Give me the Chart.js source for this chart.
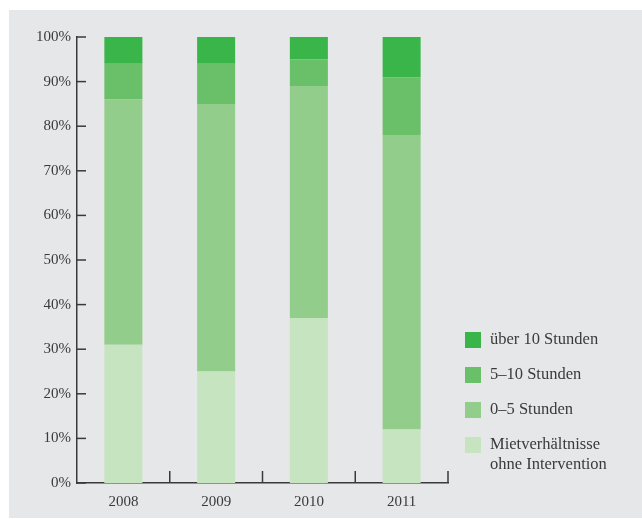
<!DOCTYPE html>
<html><head><meta charset="utf-8">
<script src="https://cdn.jsdelivr.net/npm/chart.js@4"></script>
<style>html,body{margin:0;padding:0;background:#fff}#c{display:block}</style>
</head><body>
<canvas id="c" width="642" height="519"></canvas>
<script>
const years = ['2008','2009','2010','2011'];
const seriesLabels = [['Mietverhältnisse','ohne Intervention'], '0–5 Stunden', '5–10 Stunden', 'über 10 Stunden'];
const ohneIntervention = [31, 25, 37, 12];
const null5 = [55, 60, 52, 66];
const fuenf10 = [8, 9, 6, 13];
const ueber10 = [6, 6, 5, 9];
const yTicks = [0,10,20,30,40,50,60,70,80,90,100];
const colors = ['#c7e4c1','#93cd8b','#6abf69','#3ab54a'];
const FONT = '"Liberation Serif", serif';
const TXT = '#3a3a3a';

const bgPlugin = {
  id:'bg',
  beforeDraw(chart){
    const ctx = chart.ctx;
    ctx.save(); ctx.fillStyle='#e6e7e8'; ctx.fillRect(9,10,633,508); ctx.restore();
  },
  afterDraw(chart){
    const ctx = chart.ctx, ys = chart.scales.y, xs = chart.scales.x;
    ctx.save();
    ctx.strokeStyle='#3a3a3a'; ctx.lineWidth=1.5;
    // y ticks inward
    yTicks.forEach(v=>{
      const py = ys.getPixelForValue(v);
      ctx.beginPath(); ctx.moveTo(xs.left, py); ctx.lineTo(xs.left+9, py); ctx.stroke();
    });
    // x boundary ticks
    const n = years.length;
    const step = xs.getPixelForValue(1)-xs.getPixelForValue(0);
    for(let i=1;i<=n;i++){
      const px = xs.getPixelForValue(i-1) + step/2;
      ctx.beginPath(); ctx.moveTo(px, ys.bottom); ctx.lineTo(px, ys.bottom-12); ctx.stroke();
    }
    // legend (reversed order)
    const ds = chart.data.datasets;
    ctx.font = '16.5px ' + FONT; ctx.textBaseline='middle';
    for(let k=0;k<ds.length;k++){
      const d = ds[ds.length-1-k];
      const top = 332 + k*35;
      ctx.fillStyle = d.backgroundColor; ctx.fillRect(465, top, 16, 16);
      ctx.fillStyle = TXT;
      const lines = Array.isArray(d.label)? d.label : [d.label];
      lines.forEach((t,j)=> ctx.fillText(t, 490, top+8+j*20));
    }
    ctx.restore();
  }
};

const makeDs = (label, data, color) => ({label, data, backgroundColor: color, borderWidth:0, categoryPercentage:1, barPercentage:0.41});

new Chart(document.getElementById('c'), {
  type:'bar',
  data:{
    labels: years,
    datasets:[
      makeDs(seriesLabels[0], ohneIntervention, colors[0]),
      makeDs(seriesLabels[1], null5, colors[1]),
      makeDs(seriesLabels[2], fuenf10, colors[2]),
      makeDs(seriesLabels[3], ueber10, colors[3])
    ]
  },
  options:{
    responsive:false, animation:false,
    layout:{padding:{left:0, top:37, right:194, bottom:0}},
    plugins:{legend:{display:false}, tooltip:{enabled:false}},
    scales:{
      x:{stacked:true,
        grid:{display:false, drawTicks:false},
        border:{display:true, color:'#3a3a3a', width:1.5},
        ticks:{font:{family:FONT, size:15}, color:TXT, padding:10},
        afterFit(s){ s.height = 36; }
      },
      y:{stacked:true, min:0, max:100,
        grid:{display:false, drawTicks:false},
        border:{display:true, color:'#3a3a3a', width:1.5},
        afterBuildTicks(s){ s.ticks = yTicks.map(v=>({value:v})); },
        ticks:{font:{family:FONT, size:15}, color:TXT, padding:6, callback:v=>v+'%'},
        afterFit(s){ s.width = 77; }
      }
    }
  },
  plugins:[bgPlugin]
});
</script>
</body></html>
